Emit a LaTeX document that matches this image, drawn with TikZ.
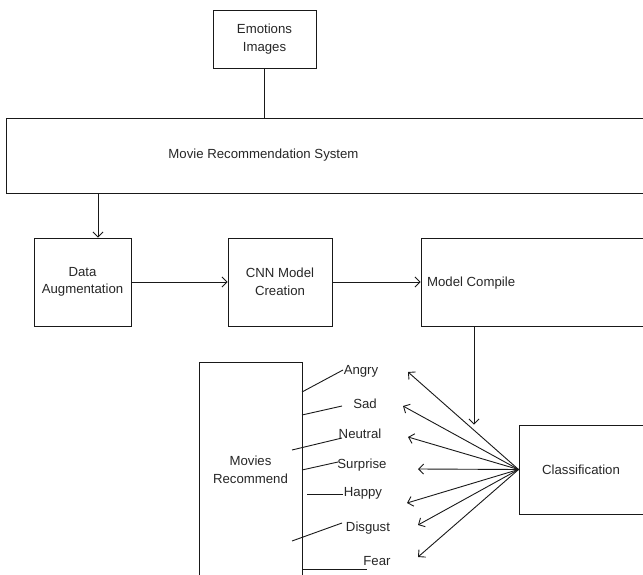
\documentclass[tikz,border=0pt]{standalone}
\usepackage{fontspec}
\setmainfont{Liberation Sans}
\usetikzlibrary{arrows.meta}
\begin{document}
\begin{tikzpicture}[
            x=1pt, y=-1pt,
            every node/.style={font=\fontsize{13.2}{17.5}\selectfont, text=black!85},
            box/.style={draw=black!90, line width=0.9pt, align=center, inner sep=0pt},
            emo/.style={inner sep=1pt, text height=9.5pt, text depth=2.5pt},
            link/.style={draw=black!90, line width=0.9pt},
            flow/.style={link, -{Straight Barb[length=5pt, width=10pt]}}
          ]
          \useasboundingbox (0,0) rectangle (643,575);
          \clip (0,0) rectangle (643,575);

          % Input and system
          \node[box, minimum width=103pt, minimum height=58pt] (images) at (264.5,39) {Emotions\\Images};
          \node[box, minimum width=674pt, minimum height=75pt,
                label={[name=mrstext, xshift=-79.5pt]center:Movie Recommendation System}] (mrs) at (343,155.5) {};
          \draw[link] (images.south) -- (images.south |- mrs.north);

          % Training pipeline
          \node[box, minimum width=97pt, minimum height=88pt] (aug) at (82.5,282) {Data\\Augmentation};
          \node[box, minimum width=104pt, minimum height=88pt] (cnn) at (280,282) {CNN Model\\Creation};
          \node[box, minimum width=279pt, minimum height=88pt,
                label={[name=compiletext, anchor=west, xshift=3pt, yshift=-1.5pt]west:Model Compile}] (compile) at (560.5,282) {};
          \draw[flow] ([xshift=15.5pt]aug.north |- mrs.south) -- ([xshift=15.5pt]aug.north);
          \draw[flow] (aug) -- (cnn);
          \draw[flow] (cnn) -- (compile);

          % Classification
          \node[box, minimum width=181pt, minimum height=89pt,
                label={[name=classiftext, xshift=-28.5pt]center:Classification}] (classif) at (609.5,469.5) {};
          \coordinate (drop) at (474,0);
          \draw[flow] (compile.south -| drop) -- (classif.north -| drop);

          % Recommendation
          \node[box, minimum width=103pt, minimum height=216pt] (movies) at (250.5,470) {Movies\\Recommend};

          % Emotion labels
          \foreach \e/\txt/\x/\y in {angry/Angry/361/371, sad/Sad/365/404.5, neutral/Neutral/360/435,
                                     surprise/Surprise/362/464.5, happy/Happy/363/493,
                                     disgust/Disgust/368/527.5, fear/Fear/377/562}
            \node[emo] (\e) at (\x,\y) {\txt};

          % Arrows from classification
          \foreach \e/\x/\y in {angry/408/372, sad/403/406, neutral/408/437, surprise/418/469,
                                happy/407/503, disgust/418/525, fear/418/557} {
            \coordinate (\e-tip) at (\x,\y);
            \draw[flow] (classif.west) -- (\e-tip);
          }

          % Links to movies box
          \foreach \e/\ax/\ay/\bx/\by in {angry/302/392/343/370, sad/302/415/342/406,
                                          neutral/292/450/342/438, surprise/302/470/338/462,
                                          happy/307/494/343/494, disgust/292/541/342/523,
                                          fear/302/569/367/569} {
            \coordinate (\e-a) at (\ax,\ay);
            \coordinate (\e-b) at (\bx,\by);
            \draw[link] (\e-a) -- (\e-b);
          }

        \end{tikzpicture}
\end{document}
